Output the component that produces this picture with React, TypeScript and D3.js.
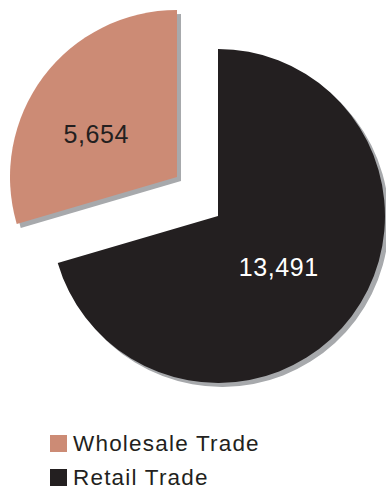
import React from "react";
import * as d3 from "d3";

const categories = ["Retail Trade", "Wholesale Trade"];
const values = [13491, 5654];
const legendOrder = ["Wholesale Trade", "Retail Trade"];

const colors: Record<string, string> = {
  "Retail Trade": "#231f20",
  "Wholesale Trade": "#cc8b75",
};
const labelColors: Record<string, string> = {
  "Retail Trade": "#ffffff",
  "Wholesale Trade": "#231f20",
};
// explode offsets & label nudges (styling)
const explode: Record<string, [number, number]> = {
  "Retail Trade": [0, 0],
  "Wholesale Trade": [-41, -39],
};
const labelNudge: Record<string, [number, number]> = {
  "Retail Trade": [-4, 2],
  "Wholesale Trade": [-16, 6],
};

const W = 386;
const H = 489;
const cx = 218;
const cy = 216;
const R = 167;
const shadow: [number, number] = [4, 4];
const FONT = "'Liberation Sans', Arial, sans-serif";

export default function App() {
  const data = categories.map((c, i) => ({ name: c, value: values[i] }));
  const pie = d3
    .pie<{ name: string; value: number }>()
    .sort(null)
    .value((d) => d.value);
  const arcs = pie(data);
  const arc = d3.arc<d3.PieArcDatum<{ name: string; value: number }>>()
    .innerRadius(0)
    .outerRadius(R);
  const labelArc = d3.arc<d3.PieArcDatum<{ name: string; value: number }>>()
    .innerRadius(0)
    .outerRadius(R * 1.0);
  const fmt = d3.format(",");

  return (
    <svg
      width={W}
      height={H}
      style={{ position: "fixed", left: 0, top: 0, background: "#fff" }}
    >
      <g transform={`translate(${cx},${cy})`}>
        {arcs.map((a) => {
          const [ox, oy] = explode[a.data.name];
          return (
            <g key={a.data.name} transform={`translate(${ox},${oy})`}>
              <path
                d={arc(a) || ""}
                fill="#a7a9ac"
                transform={`translate(${shadow[0]},${shadow[1]})`}
              />
              <path d={arc(a) || ""} fill={colors[a.data.name]} />
            </g>
          );
        })}
        {arcs.map((a) => {
          const [ox, oy] = explode[a.data.name];
          const [nx, ny] = labelNudge[a.data.name];
          const [lx, ly] = labelArc.centroid(a);
          return (
            <text
              key={a.data.name + "-l"}
              x={lx * 0.97 + ox + nx}
              y={ly * 0.97 + oy + ny}
              textAnchor="middle"
              dominantBaseline="central"
              fontFamily={FONT}
              fontSize={25}
              letterSpacing={0.6}
              fill={labelColors[a.data.name]}
            >
              {fmt(a.data.value)}
            </text>
          );
        })}
      </g>
      <g transform="translate(50,435)">
        {legendOrder.map((name, i) => (
          <g key={name} transform={`translate(0,${i * 34})`}>
            <rect width={17} height={17} fill={colors[name]} />
            <text
              x={23}
              y={16}
              fontFamily={FONT}
              fontSize={22.5}
              letterSpacing={1.2}
              fill="#231f20"
            >
              {name}
            </text>
          </g>
        ))}
      </g>
    </svg>
  );
}
